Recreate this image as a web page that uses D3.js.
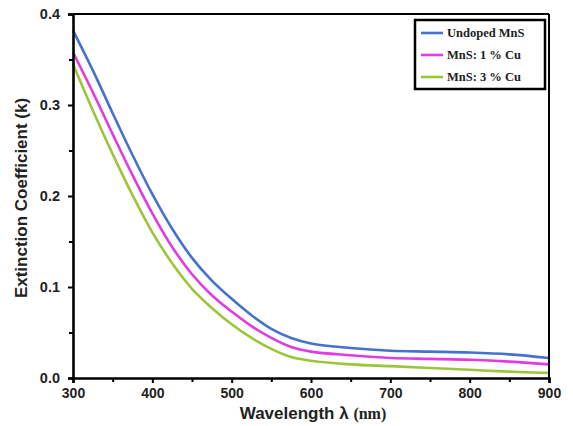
<!DOCTYPE html>
<html><head><meta charset="utf-8">
<script src="https://cdn.jsdelivr.net/npm/d3@7"></script>
<style>body{margin:0;background:#fff}</style>
</head><body>
<svg id="c" width="573" height="426"></svg>
<script>
const wavelengths = [300,325,350,375,400,425,450,475,500,525,550,575,600,650,700,750,800,850,900];
const undoped = [0.382,0.338,0.291,0.245,0.202,0.164,0.132,0.107,0.087,0.069,0.054,0.044,0.038,0.033,0.030,0.029,0.028,0.026,0.022];
const cu1 =     [0.358,0.314,0.268,0.223,0.181,0.144,0.114,0.091,0.073,0.057,0.044,0.034,0.029,0.025,0.022,0.021,0.020,0.018,0.015];
const cu3 =     [0.345,0.294,0.246,0.201,0.160,0.126,0.098,0.077,0.059,0.044,0.032,0.023,0.019,0.015,0.013,0.011,0.009,0.007,0.0055];
const seriesNames = ["Undoped MnS","MnS: 1 % Cu","MnS: 3 % Cu"];
const seriesColors = ["#4472cc","#e03ce0","#9cc63a"];
const xTicks = [300,400,500,600,700,800,900];
const yTicks = [0.0,0.1,0.2,0.3,0.4];

const svg = d3.select("#c");
const L=73,R=549,T=14,B=378;
const x = d3.scaleLinear().domain([300,900]).range([L,R]);
const y = d3.scaleLinear().domain([0,0.4]).range([B,T]);
const font = "'Liberation Sans', Arial, sans-serif";
const serif = "'Liberation Serif', 'Times New Roman', serif";

const series = [undoped,cu1,cu3];
const line = d3.line().x(d=>x(d[0])).y(d=>y(d[1])).curve(d3.curveCatmullRom.alpha(0.5));
series.forEach((s,i)=>{
  svg.append("path").datum(wavelengths.map((w,j)=>[w,s[j]]))
    .attr("d",line).attr("fill","none").attr("stroke",seriesColors[i]).attr("stroke-width",2.6);
});

// frame
svg.append("line").attr("x1",L).attr("x2",R).attr("y1",T).attr("y2",T).attr("stroke","#000").attr("stroke-width",2);
svg.append("line").attr("x1",R).attr("x2",R).attr("y1",T).attr("y2",B).attr("stroke","#000").attr("stroke-width",2);

// x axis
const xAxis = d3.axisBottom(x).tickValues(xTicks).tickFormat(d3.format("d")).tickSize(5).tickPadding(5);
const gx = svg.append("g").attr("transform",`translate(0,${B})`).call(xAxis);
gx.select(".domain").attr("stroke-width",2.6);
gx.selectAll(".tick line").attr("stroke-width",2);
gx.selectAll("text").attr("font-family",font).attr("font-weight","bold").attr("font-size",14).attr("fill","#222");
const gxm = svg.append("g").attr("transform",`translate(0,${B})`).call(d3.axisBottom(x).tickValues(d3.range(350,900,100)).tickFormat("").tickSize(4));
gxm.select(".domain").remove(); gxm.selectAll(".tick line").attr("stroke-width",2);

// y axis
const yAxis = d3.axisLeft(y).tickValues(yTicks).tickFormat(d3.format(".1f")).tickSize(5).tickPadding(8);
const gy = svg.append("g").attr("transform",`translate(${L},0)`).call(yAxis);
gy.select(".domain").attr("stroke-width",2.6);
gy.selectAll(".tick line").attr("stroke-width",2);
gy.selectAll("text").attr("font-family",font).attr("font-weight","bold").attr("font-size",14.5).attr("fill","#222");
const gym = svg.append("g").attr("transform",`translate(${L},0)`).call(d3.axisLeft(y).tickValues([0.05,0.15,0.25,0.35]).tickFormat("").tickSize(4));
gym.select(".domain").remove(); gym.selectAll(".tick line").attr("stroke-width",2);

// titles
const xt = svg.append("text").attr("x",313).attr("y",419).attr("text-anchor","middle").attr("fill","#222");
xt.append("tspan").attr("font-family",font).attr("font-weight","bold").attr("font-size",17).text("Wavelength λ ");
xt.append("tspan").attr("font-family",serif).attr("font-weight","bold").attr("font-size",16).text("(nm)");
svg.append("text").attr("transform","translate(27,198) rotate(-90)").attr("text-anchor","middle")
  .attr("font-family",font).attr("font-weight","bold").attr("font-size",17).attr("fill","#222")
  .text("Extinction Coefficient (k)");

// legend
const lg = svg.append("g");
lg.append("rect").attr("x",415).attr("y",20).attr("width",130).attr("height",69).attr("fill","#fff").attr("stroke","#000").attr("stroke-width",2.5);
seriesNames.forEach((n,i)=>{
  const yy = 33 + i*22;
  lg.append("line").attr("x1",421).attr("x2",443).attr("y1",yy).attr("y2",yy).attr("stroke",seriesColors[i]).attr("stroke-width",2.6);
  lg.append("text").attr("x",447).attr("y",yy+4).attr("font-family",serif)
    .attr("font-weight","bold").attr("font-size",12.5).attr("fill","#222").text(n);
});
</script>
</body></html>
